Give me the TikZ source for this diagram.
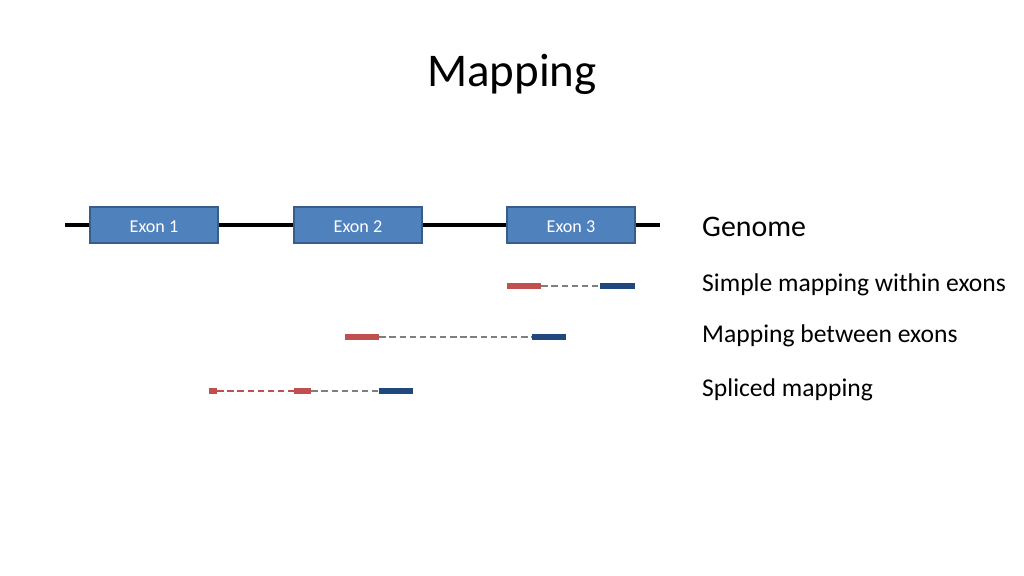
\documentclass[tikz,border=0pt]{standalone}
\usepackage{fontspec}
\setmainfont{Carlito}
\usetikzlibrary{positioning}
\definecolor{ExonBlue}{RGB}{79, 129, 189}
\definecolor{ExonEdge}{RGB}{56, 93, 138}
\definecolor{ReadRed}{RGB}{192, 80, 77}
\definecolor{ReadBlue}{RGB}{31, 73, 125}
\definecolor{GapGray}{RGB}{127, 127, 127}

\tikzset{
  exon/.style={draw=ExonEdge, fill=ExonBlue, line width=1.2pt, text=white,
    minimum width=120pt, minimum height=34pt, inner sep=0pt,
    text height=14pt, text depth=0pt, font=\fontsize{17}{20}\selectfont},
  redpart/.style={fill=ReadRed, draw=none, minimum height=6.5pt, inner sep=0pt},
  bluepart/.style={fill=ReadBlue, draw=none, minimum height=6.5pt, inner sep=0pt},
  gap/.style={draw=GapGray, line width=2.5pt, dash pattern=on 6pt off 3.5pt},
  redgap/.style={draw=ReadRed, line width=2.5pt, dash pattern=on 6pt off 3.5pt},
  caption/.style={anchor=west, inner sep=0pt, font=\fontsize{24}{28}\selectfont}
}

\begin{document}
\begin{tikzpicture}[x=0.9375pt, y=-0.9375pt]
  \useasboundingbox (0, 0) rectangle (1024, 576);

  % Title
  \node (title) at (512, 74) {\fontsize{44}{52}\selectfont Mapping};

  % Genome line
  \coordinate (gstart) at (65, 225);
  \coordinate (gend) at (660, 225);
  \draw[line width=3.5pt] (gstart) -- (gend);

  % Exons
  \node[exon] (ex1) at (154, 225) {Exon 1};
  \node[exon] (ex2) at (358, 225) {Exon 2};
  \node[exon] (ex3) at (571, 225) {Exon 3};

  % Simple mapping within exons
  \node[redpart, minimum width=32pt] (r1a) at (524, 286) {};
  \node[bluepart, minimum width=32pt] (r1b) at (617.5, 286) {};
  \draw[gap] (r1a) -- (r1b);

  % Mapping between exons
  \node[redpart, minimum width=32pt] (r2a) at (362, 337) {};
  \node[bluepart, minimum width=32pt] (r2b) at (549, 337) {};
  \draw[gap] (r2a) -- (r2b);

  % Spliced mapping
  \node[redpart, minimum width=7.5pt] (r3a) at (213, 391) {};
  \node[redpart, minimum width=16pt] (r3b) at (302.5, 391) {};
  \node[bluepart, minimum width=32pt] (r3c) at (396, 391) {};
  \draw[redgap] (r3a) -- (r3b);
  \draw[gap] (r3b) -- (r3c);

  % Labels
  \node[caption, font=\fontsize{28}{32}\selectfont] (lgenome) at (702, 226.5) {Genome};
  \node[caption] (lsimple) at (702, 284.5) {Simple mapping within exons};
  \node[caption] (lbetween) at (702, 335.5) {Mapping between exons};
  \node[caption] (lspliced) at (702, 389.5) {Spliced mapping};
\end{tikzpicture}
\end{document}
